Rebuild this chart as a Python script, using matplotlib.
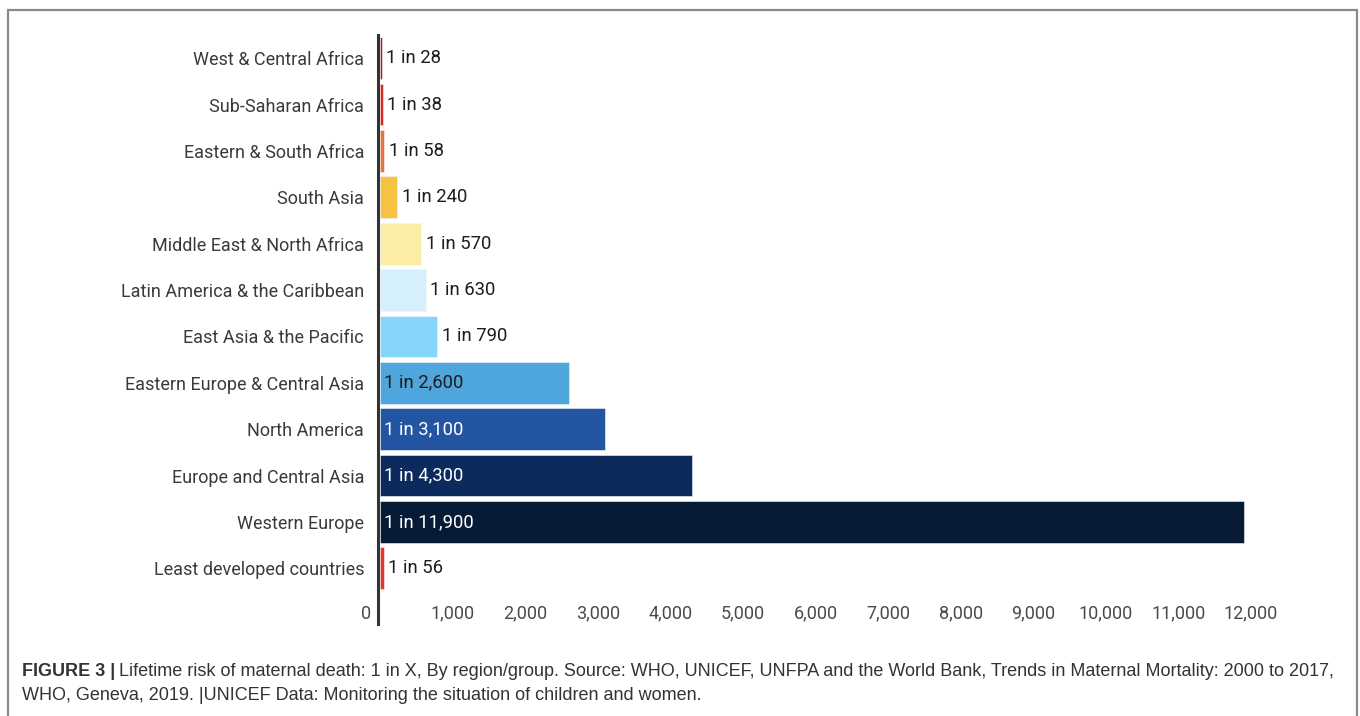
import matplotlib
matplotlib.use("Agg")
import matplotlib.pyplot as plt
from matplotlib.patches import Rectangle

# Данные: пожизненный риск материнской смерти, 1 из X
regions = [
    "West & Central Africa",
    "Sub-Saharan Africa",
    "Eastern & South Africa",
    "South Asia",
    "Middle East & North Africa",
    "Latin America & the Caribbean",
    "East Asia & the Pacific",
    "Eastern Europe & Central Asia",
    "North America",
    "Europe and Central Asia",
    "Western Europe",
    "Least developed countries",
]
risk = [28, 38, 58, 240, 570, 630, 790, 2600, 3100, 4300, 11900, 56]
colors = [
    "#a3211c", "#d8271f", "#e9723b", "#f5c244", "#fbeda4", "#d5f0fb",
    "#86d5fa", "#4fa6dc", "#2455a2", "#0d2a5d", "#071a36", "#e2382b",
]
xticks = list(range(0, 13000, 1000))

W, H = 1360, 716
fig = plt.figure(figsize=(W / 100, H / 100), dpi=100)
ax = fig.add_axes([380 / W, 1 - 624 / H, (1251 - 380) / W, (624 - 35) / H])

# Оси: сначала сдвиг линии, т.к. set_position сбрасывает подписи делений
for s in ["top", "right", "bottom"]:
    ax.spines[s].set_visible(False)
ax.spines["left"].set_position(("outward", 1.5))
ax.spines["left"].set_color("#333333")
ax.spines["left"].set_linewidth(2.2)
ax.set_facecolor("none")

ypos = list(range(len(regions)))
bars = ax.barh(ypos, risk, height=0.9, color=colors, edgecolor="#f4f7fb", linewidth=0.4)

ax.set_ylim(12.2, -0.5)
ax.set_xlim(0, 12000)

# Подписи значений
for b, v in zip(bars, risk):
    yc = b.get_y() + b.get_height() / 2
    txt = f"1 in {v:,}"
    if v >= 2000:
        col = "#1d1d1d" if v < 3000 else "white"
        ax.text(60, yc, txt, va="center", ha="left", fontsize=13.3, color=col,
                family="Roboto")
    else:
        ax.text(v + 60, yc, txt, va="center", ha="left", fontsize=13.3, color="#1d1d1d",
                family="Roboto")

ax.set_yticks(ypos)
ax.set_yticklabels(regions, family="Roboto", fontsize=13, color="#3a3a3a")
ax.set_xticks(xticks)
xlabels = [f"{t:,}" for t in xticks]
xlabels[0] = "0  "
ax.set_xticklabels(xlabels, family="Roboto", fontsize=13, color="#4a4a4a")
ax.get_xticklabels()[0].set_horizontalalignment("right")
ax.tick_params(axis="y", length=0, pad=10)
ax.tick_params(axis="x", length=0, pad=-14)

# Рамка вокруг рисунка
fig.add_artist(Rectangle((8 / W, -0.02), (1357 - 8) / W, 1 - 10 / H + 0.02,
                         transform=fig.transFigure, fill=False,
                         edgecolor="#8a8a8a", linewidth=1.6))

# Подпись к рисунку
cap_kw = dict(fontsize=13.0, color="#333333", family="Liberation Sans", va="center")
t1 = fig.text(22 / W, 1 - 672 / H, "FIGURE 3 |", fontweight="bold", **cap_kw)
fig.canvas.draw()
bb = t1.get_window_extent(renderer=fig.canvas.get_renderer())
fig.text((bb.x1 + 4) / W, 1 - 672 / H,
         "Lifetime risk of maternal death: 1 in X, By region/group. Source: WHO, UNICEF, "
         "UNFPA and the World Bank, Trends in Maternal Mortality: 2000 to 2017,", **cap_kw)
fig.text(22 / W, 1 - 696 / H,
         "WHO, Geneva, 2019. |UNICEF Data: Monitoring the situation of children and women.",
         **cap_kw)

fig.savefig("out.png", dpi=100)
